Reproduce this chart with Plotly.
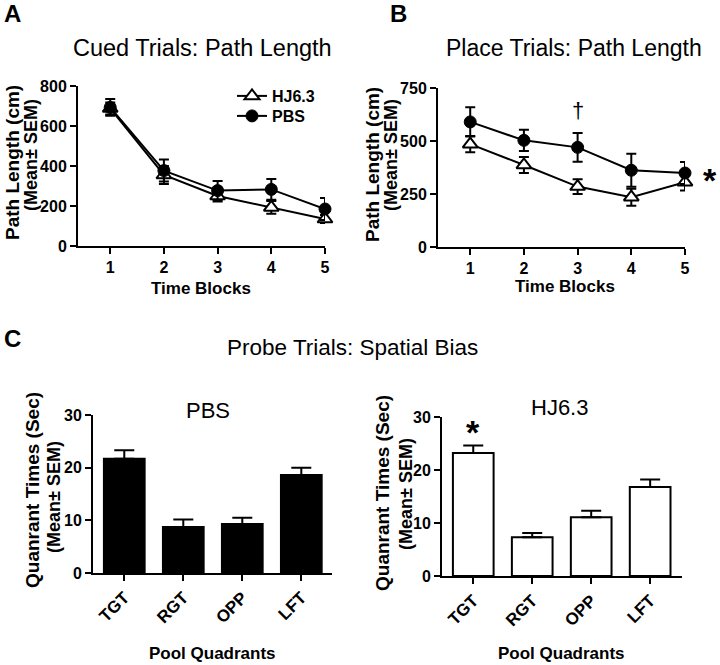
import plotly.graph_objects as go

W, H = 720, 665

# ---------------- data ----------------
blocks = [1, 2, 3, 4, 5]
cued_hj = [688, 355, 250, 193, 135]
cued_hj_err = [30, 45, 28, 32, 20]
cued_pbs = [693, 377, 277, 283, 185]
cued_pbs_err = [42, 55, 48, 52, 55]

place_hj = [485, 387, 285, 235, 306]
place_hj_err = [38, 38, 35, 40, 40]
place_pbs = [590, 503, 470, 362, 349]
place_pbs_err = [69, 50, 68, 78, 52]

quadrants = ["TGT", "RGT", "OPP", "LFT"]
probe_pbs = [21.7, 8.75, 9.3, 18.6]
probe_pbs_err = [1.6, 1.4, 1.2, 1.4]
probe_hj = [23.2, 7.3, 11.1, 16.8]
probe_hj_err = [1.4, 0.8, 1.2, 1.4]

FONT = "Liberation Sans, Arial, sans-serif"

def px_x(p):
    return p / W

def px_y(p):
    return 1 - p / H

fig = go.Figure()

def err(arr):
    return dict(type="data", array=arr, visible=True, color="black", thickness=2, width=5)

TRI = dict(symbol="triangle-up", size=13, color="white", line=dict(color="black", width=2))
CIR = dict(symbol="circle", size=12, color="black", line=dict(color="black", width=1))

# Panel A
fig.add_trace(go.Scatter(x=blocks, y=cued_hj, error_y=err(cued_hj_err), mode="lines+markers",
                         name="HJ6.3", line=dict(color="black", width=2), marker=TRI,
                         xaxis="x", yaxis="y", cliponaxis=False, legend="legend"))
fig.add_trace(go.Scatter(x=blocks, y=cued_pbs, error_y=err(cued_pbs_err), mode="lines+markers",
                         name="PBS", line=dict(color="black", width=2), marker=CIR,
                         xaxis="x", yaxis="y", cliponaxis=False, legend="legend2"))
# Panel B
fig.add_trace(go.Scatter(x=blocks, y=place_hj, error_y=err(place_hj_err), mode="lines+markers",
                         name="HJ6.3", showlegend=False, line=dict(color="black", width=2), marker=TRI,
                         xaxis="x2", yaxis="y2", cliponaxis=False))
fig.add_trace(go.Scatter(x=blocks, y=place_pbs, error_y=err(place_pbs_err), mode="lines+markers",
                         name="PBS", showlegend=False, line=dict(color="black", width=2), marker=CIR,
                         xaxis="x2", yaxis="y2", cliponaxis=False))

# Panel C bars
def berr(arr):
    return dict(type="data", array=arr, arrayminus=[0] * len(arr), symmetric=False,
                visible=True, color="black", thickness=2, width=10)

fig.add_trace(go.Bar(x=quadrants, y=probe_pbs, error_y=berr(probe_pbs_err), width=0.69,
                     marker=dict(color="black", line=dict(color="black", width=2)),
                     showlegend=False, xaxis="x3", yaxis="y3"))
fig.add_trace(go.Bar(x=quadrants, y=probe_hj, error_y=berr(probe_hj_err), width=0.69,
                     marker=dict(color="white", line=dict(color="black", width=2)),
                     showlegend=False, xaxis="x4", yaxis="y4"))

tickfont = dict(family=FONT, size=16, color="black", weight="bold")
barfont = dict(family=FONT, size=17, color="black", weight="bold")

def xax(domain, anchor, rng, **kw):
    d = dict(domain=domain, anchor=anchor, range=rng, showline=True, linecolor="black", linewidth=2,
             ticks="outside", ticklen=6, tickwidth=2, tickcolor="black", showgrid=False, zeroline=False,
             tickfont=tickfont, fixedrange=True, automargin=False)
    d.update(kw)
    return d

def yax(domain, anchor, rng, dtick):
    return dict(domain=domain, anchor=anchor, range=rng, dtick=dtick, showline=True, linecolor="black",
                linewidth=2, ticks="outside", ticklen=6, tickwidth=2, tickcolor="black", showgrid=False,
                zeroline=False, tickfont=tickfont, fixedrange=True, automargin=False)

legfont = dict(family=FONT, size=16, color="black", weight="bold")

layout = dict(
    template="none",
    width=W, height=H, autosize=False, margin=dict(l=0, r=0, t=0, b=0, pad=0),
    paper_bgcolor="white", plot_bgcolor="white",
    font=dict(family=FONT, color="black"),
    showlegend=True,
    legend=dict(x=px_x(232), y=px_y(96), xanchor="left", yanchor="middle", bgcolor="rgba(0,0,0,0)",
                font=legfont, itemwidth=30, borderwidth=0),
    legend2=dict(x=px_x(232), y=px_y(116), xanchor="left", yanchor="middle", bgcolor="rgba(0,0,0,0)",
                 font=legfont, itemwidth=30, borderwidth=0),
    xaxis=xax([px_x(78), px_x(325)], "y", [0.4, 5.0], tickvals=blocks),
    yaxis=yax([px_y(246), px_y(86)], "x", [0, 800], 200),
    xaxis2=xax([px_x(438), px_x(685)], "y2", [0.4, 5.0], tickvals=blocks),
    yaxis2=yax([px_y(247), px_y(88)], "x2", [0, 750], 250),
    xaxis3=xax([px_x(93), px_x(332)], "y3", [-0.53, 3.52], tickangle=-45, tickfont=barfont),
    yaxis3=yax([px_y(573), px_y(415)], "x3", [0, 30], 10),
    xaxis4=xax([px_x(442), px_x(682)], "y4", [-0.53, 3.54], tickangle=-45, tickfont=barfont),
    yaxis4=yax([px_y(576), px_y(417)], "x4", [0, 30], 10),
)
fig.update_layout(**layout)

def ann(text, x, y, size, bold=False, angle=0):
    fig.add_annotation(text=(f"<b>{text}</b>" if bold else text), x=px_x(x), y=px_y(y),
                       xref="paper", yref="paper", xanchor="center", yanchor="middle",
                       showarrow=False, textangle=angle,
                       font=dict(family=FONT, size=size, color="black"))

# panel letters
ann("A", 12, 14, 24, bold=True)
ann("B", 398, 14, 24, bold=True)
ann("C", 12, 338, 24, bold=True)

# titles
ann("Cued Trials: Path Length", 202, 48, 23.5)
ann("Place Trials: Path Length", 574, 48, 23)
ann("Probe Trials: Spatial Bias", 352, 347, 22.5)
ann("PBS", 208, 410, 22)
ann("HJ6.3", 559, 407, 22)

# x titles
ann("Time Blocks", 201, 288, 17, bold=True)
ann("Time Blocks", 565, 286, 17, bold=True)
ann("Pool Quadrants", 212, 653, 17, bold=True)
ann("Pool Quadrants", 561, 653, 17, bold=True)

# y titles
ann("Path Length (cm)", 12, 163, 19, bold=True, angle=-90)
ann("(Mean± SEM)", 31, 155, 18, bold=True, angle=-90)
ann("Path Length (cm)", 372, 165, 19, bold=True, angle=-90)
ann("(Mean± SEM)", 391, 155, 18, bold=True, angle=-90)
ann("Quanrant Times (Sec)", 32, 490, 19, bold=True, angle=-90)
ann("(Mean± SEM)", 54, 497, 18, bold=True, angle=-90)
ann("Quanrant Times (Sec)", 382, 493, 19, bold=True, angle=-90)
ann("(Mean± SEM)", 406, 494, 18, bold=True, angle=-90)

# significance marks
ann("†", 578, 110, 22)
ann("*", 710, 180, 34, bold=True)
ann("*", 473, 432, 34, bold=True)

fig.write_html("out.html", config={"displayModeBar": False},
               post_script="document.body.style.margin='0px';document.body.style.padding='0px';")
